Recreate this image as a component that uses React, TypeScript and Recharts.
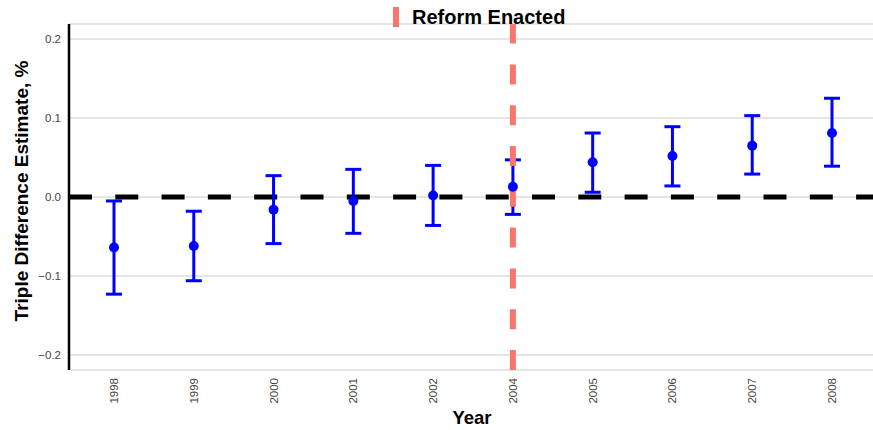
import React from "react";
import {
  CartesianGrid,
  ComposedChart,
  ErrorBar,
  Line,
  ReferenceLine,
  XAxis,
  YAxis,
} from "recharts";

const years = ["1998", "1999", "2000", "2001", "2002", "2004", "2005", "2006", "2007", "2008"];
const estimates = [-0.064, -0.062, -0.016, -0.005, 0.002, 0.013, 0.044, 0.052, 0.065, 0.081];
const lowerCI = [-0.123, -0.106, -0.059, -0.046, -0.036, -0.022, 0.006, 0.014, 0.029, 0.039];
const upperCI = [-0.005, -0.018, 0.027, 0.035, 0.04, 0.047, 0.081, 0.089, 0.103, 0.125];
const yTicks = [-0.2, -0.1, 0, 0.1, 0.2];
const reformYear = "2004";

const rows = years.map((year, i) => ({
  year,
  est: estimates[i],
  err: [estimates[i] - lowerCI[i], upperCI[i] - estimates[i]],
}));

const FONT = "'Liberation Sans', Arial, Helvetica, sans-serif";
const TICK_FILL = "#444444";
const BLUE = "#0000ff";
const REFORM_RED = "#f8766d";

const fmtY = (v: number) => {
  const s = Math.abs(v).toFixed(1);
  return v < 0 ? "\u2212" + s : s;
};

function YearTick(props: any) {
  const { x, payload } = props;
  return (
    <text
      transform={`translate(${x + 4},378) rotate(-90)`}
      textAnchor="end"
      fontSize={11.5}
      fontFamily={FONT}
      fill={TICK_FILL}
    >
      {payload.value}
    </text>
  );
}

export default function App() {
  return (
    <div style={{ position: "absolute", left: 0, top: 0, width: 873, height: 430, background: "#fff" }}>
      <ComposedChart
        width={873}
        height={430}
        data={rows}
        margin={{ top: 24, right: 0, left: 0, bottom: 0 }}
      >
        <CartesianGrid vertical={false} stroke="#cccccc" strokeWidth={1} />
        <XAxis
          dataKey="year"
          type="category"
          height={60}
          axisLine={false}
          tickLine={false}
          interval={0}
          padding={{ left: 45, right: 41 }}
          tick={<YearTick />}
        />
        <YAxis
          type="number"
          width={69}
          domain={[-0.219, 0.219]}
          ticks={yTicks}
          tickFormatter={fmtY}
          tickLine={false}
          axisLine={{ stroke: "#000", strokeWidth: 2.5 }}
          tick={{ fontSize: 11.5, fontFamily: FONT, fill: TICK_FILL }}
        />
        <ReferenceLine y={0} stroke="#000" strokeWidth={5} strokeDasharray="23 23.3" />
        <Line
          dataKey="est"
          stroke="none"
          isAnimationActive={false}
          dot={{ r: 5, fill: BLUE, stroke: "none" }}
          activeDot={false}
        >
          <ErrorBar dataKey="err" width={8} stroke={BLUE} strokeWidth={3} isAnimationActive={false} />
        </Line>
        <ReferenceLine x={reformYear} stroke={REFORM_RED} strokeWidth={6} strokeDasharray="20 20.8" />
      </ComposedChart>

      <svg width={873} height={430} style={{ position: "absolute", left: 0, top: 0, pointerEvents: "none" }}>
        <text
          transform="translate(28,191) rotate(-90)"
          textAnchor="middle"
          fontSize={19}
          fontWeight="bold"
          fontFamily={FONT}
          fill="#000"
        >
          Triple Difference Estimate, %
        </text>
        <text x={472} y={424} textAnchor="middle" fontSize={18.5} fontWeight="bold" fontFamily={FONT} fill="#000">
          Year
        </text>
      </svg>

      <div
        style={{
          position: "absolute",
          left: 393,
          top: 7,
          display: "flex",
          alignItems: "center",
          fontFamily: FONT,
          fontWeight: "bold",
          fontSize: 20,
          color: "#000",
        }}
      >
        <span style={{ display: "inline-block", width: 6, height: 20, background: REFORM_RED, marginRight: 13 }} />
        <span style={{ lineHeight: "20px" }}>Reform Enacted</span>
      </div>
    </div>
  );
}
